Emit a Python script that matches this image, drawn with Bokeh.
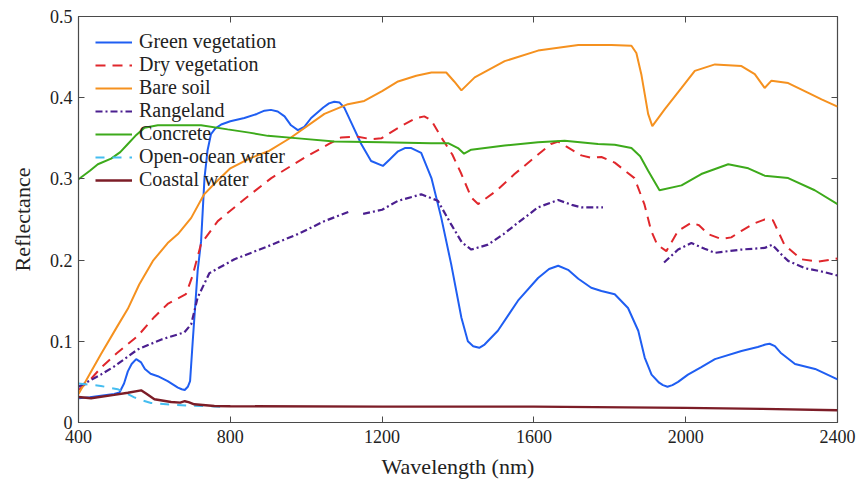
from bokeh.plotting import figure
from bokeh.models import (FixedTicker, LinearAxis, CustomJSTickFormatter, Legend,
                          LegendItem, Range1d)
from bokeh.embed import file_html
from bokeh.resources import INLINE

nan = float("nan")

# ---------------- data ----------------
x_ticks = [400, 800, 1200, 1600, 2000, 2400]
y_ticks = [0, 0.1, 0.2, 0.3, 0.4, 0.5]

green_veg_wl = [400, 430, 459, 494, 508, 520, 530, 540, 552, 565, 575, 590, 609, 635,
                662, 672, 680, 688, 694, 701, 714, 723, 732, 740, 749, 760, 776,
                800, 837, 870, 890, 907, 925, 943, 960, 978, 995, 1013, 1045, 1060,
                1074, 1088, 1100, 1120, 1145, 1171, 1202, 1220, 1242, 1260, 1277,
                1303, 1330, 1356, 1382, 1409, 1426, 1440, 1456, 1470, 1505, 1558,
                1611, 1640, 1664, 1690, 1717, 1751, 1778, 1813, 1848, 1875, 1892,
                1910, 1930, 1940, 1952, 1965, 1980, 2006, 2040, 2077, 2147, 2190,
                2210, 2221, 2235, 2250, 2288, 2341, 2400]
green_veg = [0.030, 0.031, 0.033, 0.035, 0.037, 0.048, 0.063, 0.072, 0.078, 0.074,
             0.066, 0.060, 0.057, 0.051, 0.043, 0.041, 0.040, 0.044, 0.051, 0.100,
             0.187, 0.223, 0.301, 0.335, 0.355, 0.362, 0.367, 0.371, 0.375, 0.380,
             0.384, 0.385, 0.383, 0.377, 0.366, 0.360, 0.364, 0.375, 0.388, 0.393,
             0.395, 0.394, 0.388, 0.368, 0.343, 0.322, 0.316, 0.324, 0.334, 0.338,
             0.338, 0.332, 0.301, 0.252, 0.195, 0.129, 0.100, 0.094, 0.092, 0.096,
             0.113, 0.150, 0.178, 0.189, 0.193, 0.188, 0.177, 0.166, 0.162, 0.158,
             0.141, 0.113, 0.080, 0.059, 0.049, 0.046, 0.044, 0.046, 0.050, 0.059,
             0.068, 0.078, 0.088, 0.093, 0.096, 0.097, 0.094, 0.086, 0.072, 0.066,
             0.053]

dry_veg_wl = [400, 430, 459, 500, 556, 600, 635, 683, 700, 723, 767, 837, 908, 995,
              1060, 1092, 1136, 1170, 1198, 1250, 1290, 1311, 1330, 1356, 1385,
              1409, 1435, 1453, 1500, 1549, 1611, 1645, 1664, 1685, 1725, 1750,
              1778, 1813, 1865, 1891, 1909, 1925, 1949, 1980, 2015, 2035, 2059,
              2094, 2120, 2147, 2180, 2208, 2230, 2260, 2305, 2349, 2400]
dry_veg = [0.040, 0.052, 0.0675, 0.085, 0.1065, 0.130, 0.146, 0.158, 0.180, 0.220,
           0.248, 0.275, 0.301, 0.326, 0.343, 0.351, 0.352, 0.349, 0.350, 0.365,
           0.375, 0.377, 0.372, 0.351, 0.330, 0.306, 0.277, 0.269, 0.285, 0.306,
           0.330, 0.343, 0.346, 0.340, 0.329, 0.326, 0.327, 0.320, 0.301, 0.269,
           0.236, 0.219, 0.211, 0.236, 0.246, 0.243, 0.232, 0.226, 0.228, 0.236,
           0.245, 0.250, 0.249, 0.219, 0.201, 0.198, 0.202]

bare_soil_wl = [400, 430, 459, 503, 530, 560, 596, 635, 662, 697, 731, 760, 800,
                850, 900, 960, 1048, 1110, 1153, 1200, 1242, 1290, 1330, 1369,
                1390, 1409, 1444, 1523, 1611, 1717, 1804, 1857, 1870, 1883, 1901,
                1912, 1945, 1989, 2024, 2077, 2147, 2182, 2208, 2226, 2270, 2323,
                2358, 2400]
bare_soil = [0.035, 0.060, 0.084, 0.119, 0.140, 0.170, 0.199, 0.221, 0.232, 0.252,
             0.281, 0.295, 0.313, 0.325, 0.334, 0.351, 0.380, 0.392, 0.396, 0.408,
             0.420, 0.427, 0.431, 0.431, 0.420, 0.409, 0.425, 0.445, 0.458, 0.465,
             0.465, 0.464, 0.455, 0.429, 0.380, 0.365, 0.386, 0.412, 0.433, 0.441,
             0.439, 0.429, 0.412, 0.421, 0.418, 0.406, 0.398, 0.389]

rangeland_wl = [400, 459, 494, 556, 617, 679, 697, 714, 745, 811, 899, 978, 1048,
                1115, 1130, 1150, 1200, 1242, 1303, 1347, 1382, 1410, 1435, 1479,
                1520, 1558, 1611, 1664, 1700, 1725, 1782, 1860, 1943, 1980, 2015,
                2050, 2077, 2147, 2208, 2228, 2250, 2270, 2314, 2358, 2400]
rangeland = [0.044, 0.059, 0.069, 0.090, 0.102, 0.111, 0.121, 0.154, 0.184, 0.201,
             0.217, 0.232, 0.248, 0.260, nan, 0.257, 0.262, 0.273, 0.281, 0.273,
             0.244, 0.222, 0.213, 0.219, 0.232, 0.246, 0.265, 0.274, 0.268, 0.265,
             0.265, nan, 0.197, 0.213, 0.221, 0.214, 0.209, 0.213, 0.215, 0.219,
             0.208, 0.199, 0.190, 0.186, 0.181]

concrete_wl = [400, 430, 451, 486, 510, 530, 550, 574, 609, 723, 793, 850, 899, 987,
               1074, 1200, 1329, 1374, 1400, 1416, 1435, 1523, 1611, 1681, 1769,
               1813, 1857, 1880, 1901, 1931, 1989, 2041, 2112, 2165, 2208, 2270,
               2340, 2400]
concrete = [0.2995, 0.310, 0.318, 0.325, 0.333, 0.343, 0.353, 0.363, 0.366, 0.366,
            0.361, 0.357, 0.353, 0.3496, 0.346, 0.345, 0.344, 0.344, 0.338, 0.331,
            0.336, 0.341, 0.345, 0.347, 0.343, 0.342, 0.338, 0.328, 0.310, 0.286,
            0.292, 0.306, 0.318, 0.313, 0.304, 0.301, 0.286, 0.269]

ocean_wl = [400, 459, 503, 530, 547, 570, 591, 653, 723, 776]
ocean = [0.048, 0.045, 0.041, 0.035, 0.031, 0.027, 0.024, 0.0216, 0.0203, 0.0195]

coastal_wl = [400, 433, 494, 530, 565, 580, 600, 644, 668, 680, 690, 705, 758, 800,
              1200, 1600, 2000, 2200, 2400]
coastal = [0.0314, 0.0298, 0.034, 0.0367, 0.0396, 0.035, 0.0286, 0.0252, 0.0245,
           0.0262, 0.025, 0.0224, 0.0203, 0.020, 0.0195, 0.0195, 0.018, 0.0168, 0.015]

series_names = ["Green vegetation", "Dry vegetation", "Bare soil", "Rangeland",
                "Concrete", "Open-ocean water", "Coastal water"]

# ---------------- figure ----------------
FONT = "Liberation Serif"
AX = "#4a4a4a"
TXT = "#222222"

p = figure(width=859, height=487, output_backend="svg", toolbar_location=None,
           x_range=Range1d(400, 2400), y_range=Range1d(0, 0.5),
           min_border_left=78, min_border_right=22, min_border_top=16,
           min_border_bottom=65, background_fill_color="white",
           border_fill_color="white")
p.xgrid.visible = False
p.ygrid.visible = False
p.outline_line_color = AX
p.outline_line_width = 1.2

for ax in (p.xaxis[0], p.yaxis[0]):
    ax.major_tick_in = 6
    ax.major_tick_out = 0
    ax.minor_tick_line_color = None
    ax.axis_line_color = AX
    ax.major_tick_line_color = AX
    ax.major_label_text_font = FONT
    ax.major_label_text_font_size = "18px"
    ax.major_label_text_color = TXT
    ax.axis_label_text_font = FONT
    ax.axis_label_text_font_size = "22px"
    ax.axis_label_text_font_style = "normal"
    ax.axis_label_text_color = TXT

p.xaxis[0].ticker = FixedTicker(ticks=x_ticks)
p.yaxis[0].ticker = FixedTicker(ticks=y_ticks)
p.yaxis[0].formatter = CustomJSTickFormatter(
    code="return tick == 0 ? '0' : tick.toFixed(1);")
p.xaxis[0].axis_label = "Wavelength (nm)"
p.yaxis[0].axis_label = "Reflectance"
p.xaxis[0].major_label_standoff = 7
p.xaxis[0].axis_label_standoff = 8
p.yaxis[0].major_label_standoff = 6
p.yaxis[0].axis_label_standoff = 12

blank = CustomJSTickFormatter(code="return '';")
top = LinearAxis(ticker=FixedTicker(ticks=x_ticks), formatter=blank,
                 major_tick_in=6, major_tick_out=0, minor_tick_line_color=None,
                 axis_line_color=None, major_tick_line_color=AX,
                 major_label_standoff=0, major_label_text_font_size="1px")
right = LinearAxis(ticker=FixedTicker(ticks=y_ticks), formatter=blank,
                   major_tick_in=6, major_tick_out=0, minor_tick_line_color=None,
                   axis_line_color=None, major_tick_line_color=AX,
                   major_label_standoff=0, major_label_text_font_size="1px")
p.add_layout(top, "above")
p.add_layout(right, "right")

styles = [
    (green_veg_wl, green_veg, "#1f5ef2", "solid", 2.0),
    (dry_veg_wl, dry_veg, "#e0272c", "10 7", 2.0),
    (bare_soil_wl, bare_soil, "#f5911f", "solid", 2.0),
    (rangeland_wl, rangeland, "#4b1f8f", "7 3 2 3", 2.2),
    (concrete_wl, concrete, "#3daa1b", "solid", 2.0),
    (ocean_wl, ocean, "#45bdf0", "9 8", 2.0),
    (coastal_wl, coastal, "#7c1d27", "solid", 2.4),
]

items = []
for name, (xs, ys, col, dash, lw) in zip(series_names, styles):
    r = p.line(xs, ys, line_color=col, line_width=lw, line_dash=dash)
    items.append(LegendItem(label=name, renderers=[r]))

legend = Legend(items=items, location=(10, 224), margin=0, padding=7,
                spacing=0, glyph_width=37, glyph_height=20, label_height=20,
                label_standoff=7, label_text_font=FONT,
                label_text_font_size="20px", label_text_color=TXT,
                background_fill_alpha=0, border_line_alpha=0)
p.add_layout(legend)

open("out.html", "w").write(file_html(p, INLINE))
